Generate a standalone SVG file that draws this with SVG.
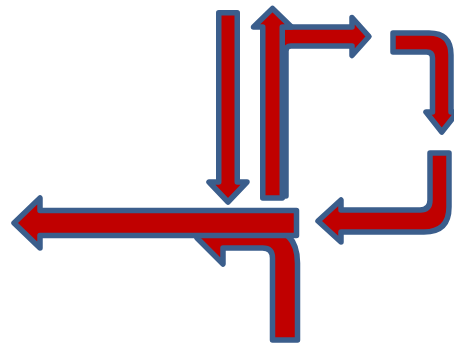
<svg xmlns="http://www.w3.org/2000/svg" width="454" height="346" viewBox="0 0 454 346">
  <style>
    .arrow { fill: #C00000; stroke: #3B5E8C; stroke-width: 5.5; stroke-linejoin: round; }
  </style>
  <rect width="454" height="346" fill="#FFFFFF"/>
  <g id="connectors">
    <g id="bent-arrow-bottom">
      <path class="arrow" d="M272.5,340 H297.5 V263 Q297.5,228 262.5,228 H223 V212 L197,238 L223,264 V248 H262.5 Q272.5,248 272.5,258 Z"/>
    </g>
    <g id="left-arrow-long">
      <path class="arrow" d="M296.5,210.5 V235.5 H40 V248 L14,223 L40,198 V210.5 Z"/>
    </g>
    <g id="bent-arrow-right">
      <path class="arrow" d="M264,196 V42 Q264,27 279,27 H352 V17.5 L369,36.5 L352,55.5 V46 H291 Q286,46 286,51 V196 Z"/>
    </g>
    <g id="up-arrow">
      <path class="arrow" d="M262.75,198 V27 H253.5 L272.5,8.5 L291.5,27 H282.25 V198 Z"/>
    </g>
    <g id="down-arrow">
      <path class="arrow" d="M218.75,12.75 H237.25 V182 H247 L228,202 L209,182 H218.75 Z"/>
    </g>
    <g id="bent-arrow-down">
      <path class="arrow" d="M393,33 H429 Q451,33 451,55 V112 H457.5 L441.75,132 L426,112 H432.5 V58 Q432.5,52 426.5,52 H393 Z"/>
    </g>
    <g id="bent-arrow-left">
      <path class="arrow" d="M430,153 H449 V207 Q449,232 424,232 H341 V242 L318,221 L341,200 V210 H420 Q430,210 430,200 Z"/>
    </g>
  </g>
</svg>
